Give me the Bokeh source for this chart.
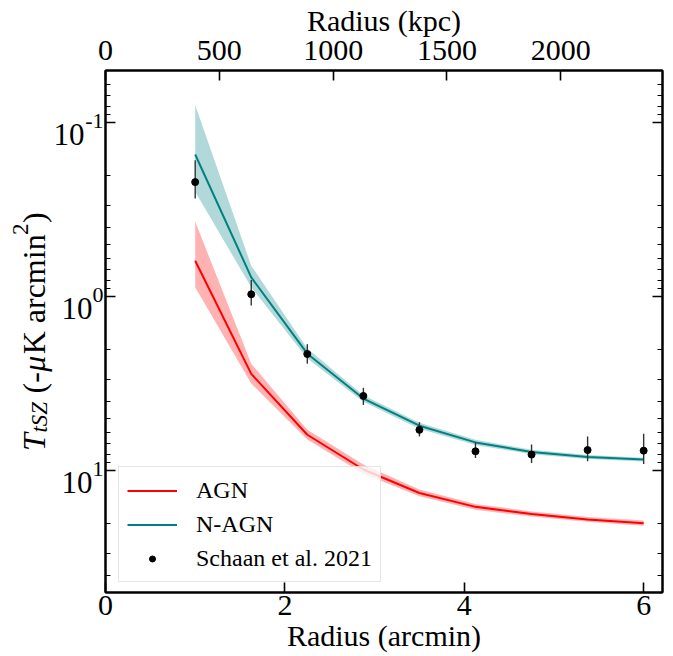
import numpy as np
from bokeh.plotting import figure
from bokeh.layouts import row
from bokeh.models import (Range1d, LinearAxis, LogAxis, FixedTicker, Legend,
                          LegendItem, ColumnDataSource, LinearScale)
from bokeh.core.properties import value
from bokeh.embed import file_html
from bokeh.resources import INLINE

# ---------------- data ----------------
radius_arcmin = [1.0, 1.625, 2.25, 2.875, 3.5, 4.125, 4.75, 5.375, 6.0]

agn = [0.620, 2.77, 6.2, 9.82, 13.4, 16.1, 17.7, 19.0, 20.0]
agn_lo = [0.369, 2.42, 5.8, 9.2, 12.8, 15.5, 17.1, 18.4, 19.3]
agn_hi = [0.881, 3.15, 6.6, 10.4, 14.0, 16.7, 18.3, 19.6, 20.7]

nagn = [0.152, 0.772, 2.12, 3.84, 5.5, 6.86, 7.79, 8.32, 8.61]
nagn_lo = [0.0789, 0.662, 1.98, 3.68, 5.29, 6.62, 7.57, 8.10, 8.40]
nagn_hi = [0.249, 0.880, 2.26, 4.00, 5.72, 7.10, 8.02, 8.55, 8.84]

schaan = [0.219, 0.966, 2.13, 3.71, 5.81, 7.72, 8.06, 7.59, 7.65]
schaan_lo = [0.164, 0.80, 1.87, 3.33, 5.25, 6.86, 7.06, 6.34, 6.11]
schaan_hi = [0.272, 1.12, 2.42, 4.18, 6.34, 8.43, 9.00, 8.80, 9.12]

x_ticks = [0, 2, 4, 6]
kpc_ticks = [0, 500, 1000, 1500, 2000]
y_ticks = [0.1, 1.0, 10.0]
y_tick_base = ["10", "10", "10"]
y_tick_exp = ["-1", "0", "1"]
KPC_PER_ARCMIN = 394.0
X_MAX = 6.21
Y_TOP, Y_BOTTOM = 0.05, 50.0

FONT = "Liberation Serif"
H = 655
TOP_B, BOT_B = 67, 63
LEFT_W = 104      # width of the left strip (y title + y tick labels)
OVERLAP = 9       # main figure overlaps the strip by this much (transparent border)

y_range = Range1d(Y_BOTTOM, Y_TOP)

# ---------------- main figure ----------------
p = figure(width=670 - LEFT_W + OVERLAP, height=H, output_backend="svg",
           toolbar_location=None,
           x_range=Range1d(0, X_MAX), y_range=y_range,
           y_axis_type="log", x_axis_location=None, y_axis_location=None,
           min_border_left=OVERLAP + 1, min_border_right=8, min_border_top=TOP_B,
           min_border_bottom=BOT_B)
p.styles = {"margin-left": f"-{OVERLAP}px"}
p.extra_x_ranges = {"kpc": Range1d(0, X_MAX * KPC_PER_ARCMIN)}
p.xgrid.visible = False
p.ygrid.visible = False
p.outline_line_color = "black"
p.outline_line_width = 2
p.background_fill_color = "white"
p.border_fill_color = None

minor_y = []
for e in range(-2, 2):
    for m in range(2, 10):
        minor_y.append(m * 10.0 ** e)


def style_axis(ax, size="30px"):
    ax.axis_line_width = 2
    ax.axis_line_color = "black"
    ax.major_tick_in = 10
    ax.major_tick_out = 0
    ax.minor_tick_in = 5
    ax.minor_tick_out = 0
    ax.major_tick_line_width = 1.6
    ax.minor_tick_line_width = 1.2
    ax.major_label_text_font = FONT
    ax.major_label_text_font_size = size
    ax.major_label_text_color = "black"
    ax.axis_label_text_font = FONT
    ax.axis_label_text_font_size = "30px"
    ax.axis_label_text_font_style = "normal"
    ax.axis_label_text_color = "black"


bottom = LinearAxis(ticker=FixedTicker(ticks=x_ticks, minor_ticks=[]),
                    axis_label="Radius (arcmin)")
style_axis(bottom)
bottom.major_label_standoff = 3
bottom.axis_label_standoff = 1
p.add_layout(bottom, "below")

top = LinearAxis(x_range_name="kpc", ticker=FixedTicker(ticks=kpc_ticks, minor_ticks=[]),
                 axis_label="Radius (kpc)")
style_axis(top)
top.major_label_standoff = 11
top.axis_label_standoff = 1
p.add_layout(top, "above")

left = LogAxis(ticker=FixedTicker(ticks=y_ticks, minor_ticks=minor_y))
style_axis(left)
left.major_label_overrides = {t: "" for t in y_ticks}
left.major_label_standoff = 0
p.add_layout(left, "left")

right = LogAxis(ticker=FixedTicker(ticks=y_ticks, minor_ticks=minor_y))
style_axis(right)
right.major_label_overrides = {t: "" for t in y_ticks}
right.major_label_standoff = 0
p.add_layout(right, "right")

# ---------------- glyphs ----------------
src = ColumnDataSource(dict(x=radius_arcmin, agn=agn, agn_lo=agn_lo, agn_hi=agn_hi,
                            nagn=nagn, nagn_lo=nagn_lo, nagn_hi=nagn_hi,
                            s=schaan, s_lo=schaan_lo, s_hi=schaan_hi))

p.varea(x="x", y1="agn_lo", y2="agn_hi", source=src, fill_color="red", fill_alpha=0.3)
r_agn = p.line(x="x", y="agn", source=src, line_color="red", line_width=2)
p.varea(x="x", y1="nagn_lo", y2="nagn_hi", source=src, fill_color="#008080", fill_alpha=0.3)
r_nagn = p.line(x="x", y="nagn", source=src, line_color="#008080", line_width=2)
p.segment(x0="x", y0="s_lo", x1="x", y1="s_hi", source=src, line_color="#333333",
          line_width=1.4)
r_s = p.scatter(x="x", y="s", source=src, size=7, color="black")

legend = Legend(items=[LegendItem(label="AGN", renderers=[r_agn]),
                       LegendItem(label="N-AGN", renderers=[r_nagn]),
                       LegendItem(label="Schaan et al. 2021", renderers=[r_s])],
                location=(13, 10))
legend.label_text_font = FONT
legend.label_text_font_size = "24px"
legend.label_text_color = "black"
legend.glyph_width = 50
legend.glyph_height = 15
legend.label_height = 30
legend.label_standoff = 19
legend.spacing = 4
legend.padding = 8
legend.margin = 0
legend.border_line_color = "#cccccc"
legend.border_line_width = 1
legend.background_fill_color = "white"
legend.background_fill_alpha = 0.8
p.add_layout(legend, "center")

# ---------------- left strip: y tick labels and y axis title ----------------
q = figure(width=LEFT_W, height=H, output_backend="svg", toolbar_location=None,
           x_range=Range1d(0, LEFT_W), y_range=y_range, y_axis_type="log",
           x_axis_location=None, y_axis_location=None,
           min_border_left=0, min_border_right=0, min_border_top=TOP_B,
           min_border_bottom=BOT_B)
q.extra_y_ranges = {"px": Range1d(BOT_B, H - TOP_B)}
q.extra_y_scales = {"px": LinearScale()}
q.xgrid.visible = False
q.ygrid.visible = False
q.outline_line_color = None
q.background_fill_color = "white"
q.border_fill_color = "white"

# tick labels 10^n (base + superscript), right aligned at the axis
EXP_SIZE = 22
exp_x = [LEFT_W - 1] * len(y_ticks)
base_x = [LEFT_W - 1 - EXP_SIZE * (0.36 * (e.startswith("-")) + 0.5 * len(e.lstrip("-")))
          for e in y_tick_exp]
q.text(x=base_x, y=y_ticks, text=y_tick_base, text_font=value(FONT),
       text_font_size="31px", text_align="right", text_baseline="alphabetic",
       y_offset=12, text_color="black")
q.text(x=exp_x, y=y_ticks, text=y_tick_exp, text_font=value(FONT),
       text_font_size=f"{EXP_SIZE}px", text_align="right", text_baseline="alphabetic",
       y_offset=-2, text_color="black")

# rotated y axis title: T_tSZ (-μK arcmin^2)
pieces = [  # text, size, style, shift across baseline (px, + = subscript), advance (em)
    ("T", 32, "italic", 0, 0.58),
    ("tSZ", 23, "italic", 6, 1.71),
    ("(-", 32, "normal", 0, 0.68),
    ("\u03bc", 32, "italic", 0, 0.55),
    ("K arcmin", 32, "normal", 0, 3.75),
    ("2", 23, "normal", -13, 0.52),
    (")", 32, "normal", 0, 0.35),
]
total = sum(sz * adv for _, sz, _, _, adv in pieces)
mid = BOT_B + (H - TOP_B - BOT_B) / 2
ypos = mid - total / 2
BASE_X = 33
for txt, sz, st, off, adv in pieces:
    q.text(x=[BASE_X + off], y=[ypos], text=[txt], y_range_name="px", angle=np.pi / 2,
           text_font=value(FONT), text_font_size=f"{sz}px", text_font_style=value(st),
           text_align="left", text_baseline="alphabetic", text_color="black")
    ypos += sz * adv

layout = row(q, p, spacing=0)
open("out.html", "w").write(file_html(layout, INLINE))
